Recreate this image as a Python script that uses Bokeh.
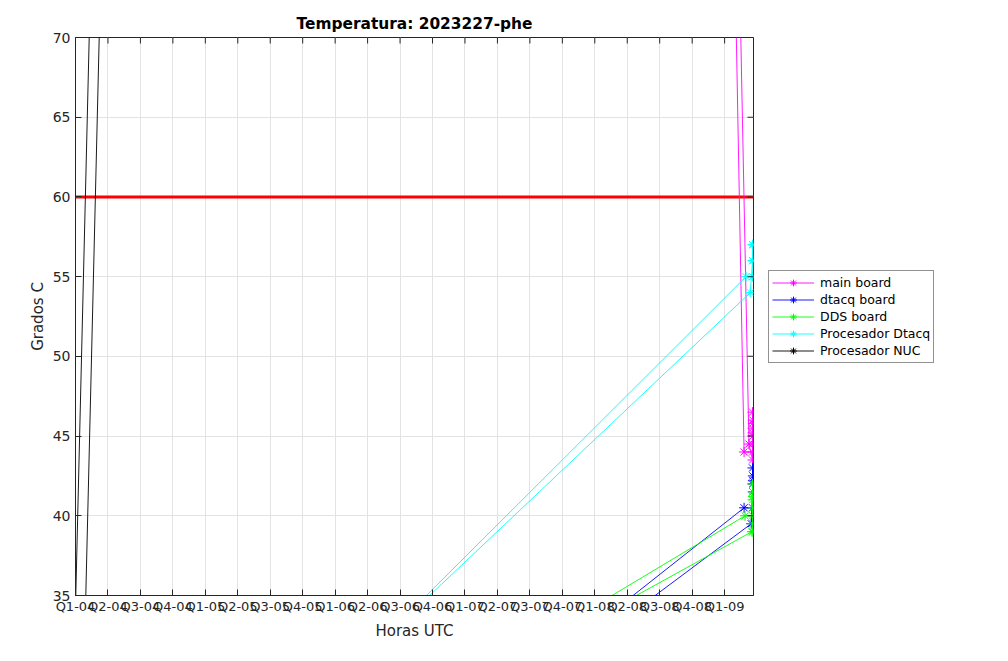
from bokeh.plotting import figure
from bokeh.layouts import row
from bokeh.models import Range1d, FixedTicker, Legend, LegendItem, Span
from bokeh.embed import file_html
from bokeh.resources import INLINE

# ---------------- data ----------------
quarter_labels = ["Q1-04", "Q2-04", "Q3-04", "Q4-04",
                  "Q1-05", "Q2-05", "Q3-05", "Q4-05",
                  "Q1-06", "Q2-06", "Q3-06", "Q4-06",
                  "Q1-07", "Q2-07", "Q3-07", "Q4-07",
                  "Q1-08", "Q2-08", "Q3-08", "Q4-08",
                  "Q1-09"]
quarter_ticks = list(range(len(quarter_labels)))   # quarter index since Q1-04
temp_ticks = [35, 40, 45, 50, 55, 60, 65, 70]
x_end = 20.89
temp_min, temp_max = 35, 70
limit_temp = 60

main_x = [20.27, 20.60, 20.86, 20.86, 20.87, 20.86, 20.87, 20.86, 20.87, 20.86, 20.86, 20.75, 20.40]
main_y = [80.0, 44.0, 44.0, 44.5, 45.0, 45.5, 46.0, 46.5, 45.8, 45.2, 43.5, 44.5, 80.0]

dtacq_x = [14.07, 20.60, 20.86, 20.87, 20.86, 20.87, 20.86, 20.87, 20.82, 14.57]
dtacq_y = [30.0, 40.5, 40.5, 41.5, 42.0, 42.5, 43.0, 42.2, 39.5, 30.0]

dds_x = [12.43, 20.63, 20.86, 20.87, 20.86, 20.87, 20.86, 20.87, 20.86, 20.87, 20.84, 12.83]
dds_y = [30.0, 40.0, 40.0, 40.5, 41.0, 41.5, 42.0, 41.2, 39.5, 39.0, 39.0, 30.0]

proc_dtacq_x = [8.35, 20.66, 20.86, 20.87, 20.86, 20.87, 20.86, 20.79, 8.31]
proc_dtacq_y = [30.0, 55.0, 55.0, 56.0, 57.0, 57.0, 56.0, 54.0, 30.0]

nuc_x = [0.0, 0.5, 0.8, 0.3]
nuc_y = [34.24, 76.6, 75.9, 33.56]

series = [
    ("main board", main_x, main_y, "#ff00ff"),
    ("dtacq board", dtacq_x, dtacq_y, "#0000ff"),
    ("DDS board", dds_x, dds_y, "#00ff00"),
    ("Procesador Dtacq", proc_dtacq_x, proc_dtacq_y, "#00ffff"),
    ("Procesador NUC", nuc_x, nuc_y, "#000000"),
]

FONT = "DejaVu Sans"
AXC = "#262626"
MARKER_SIZE = 10

p = figure(frame_width=678, frame_height=558,
           x_range=Range1d(0, x_end), y_range=Range1d(temp_min, temp_max),
           output_backend="svg", toolbar_location=None,
           min_border_left=75, min_border_top=37, min_border_bottom=50,
           min_border_right=5)

p.title.text = "Temperatura: 2023227-phe"
p.title.align = "center"
p.title.text_font = FONT
p.title.text_font_size = "15.4px"
p.title.text_font_style = "bold"
p.title.text_color = "#000000"

p.outline_line_color = AXC
p.outline_line_alpha = 1.0
p.background_fill_color = "white"
p.border_fill_color = "white"

xt = FixedTicker(ticks=quarter_ticks)
yt = FixedTicker(ticks=temp_ticks)

p.xaxis.ticker = xt
p.yaxis.ticker = yt
p.xaxis.major_label_overrides = {i: lab for i, lab in zip(quarter_ticks, quarter_labels)}
p.xaxis.axis_label = "Horas UTC"
p.yaxis.axis_label = "Grados C"

for ax in (p.xaxis[0], p.yaxis[0]):
    ax.major_tick_in = 6
    ax.major_tick_out = 0
    ax.minor_tick_line_color = None
    ax.axis_line_color = AXC
    ax.major_tick_line_color = AXC
    ax.major_label_text_font = FONT
    ax.major_label_text_color = AXC
    ax.axis_label_text_font = FONT
    ax.axis_label_text_font_size = "15px"
    ax.axis_label_text_font_style = "normal"
    ax.axis_label_text_color = AXC
p.xaxis.major_label_text_font_size = "13px"
p.yaxis.major_label_text_font_size = "14px"
p.xaxis.major_label_standoff = 3
p.xaxis.axis_label_standoff = 5
p.yaxis.major_label_standoff = 5
p.yaxis.axis_label_standoff = 3

p.xgrid.ticker = xt
p.ygrid.ticker = yt
p.xgrid.grid_line_color = "#e3e3e3"
p.ygrid.grid_line_color = "#e3e3e3"

limit = Span(location=limit_temp, dimension="width", line_color="#ff0000",
             line_width=3, level="underlay")
p.add_layout(limit)

for name, xs, ys, col in series:
    p.line(xs, ys, line_color=col, line_width=0.9)
    p.scatter(xs, ys, marker="asterisk", size=MARKER_SIZE, line_color=col, line_width=1)

# inward box ticks on top and right edges (half of each clipped by the frame)
p.rect(x=quarter_ticks, y=[temp_max] * len(quarter_ticks), width=1, height=12,
       width_units="screen", height_units="screen", fill_color=AXC, line_color=None)
p.rect(x=[x_end] * len(temp_ticks), y=temp_ticks, width=12, height=1,
       width_units="screen", height_units="screen", fill_color=AXC, line_color=None)

# ---------------- legend panel (right of the axes) ----------------
# same series drawn again, entirely outside this panel's (0..1) ranges, only to feed the legend
leg_fig = figure(width=230, height=645, title=None,
                 x_range=Range1d(-1000, -999), y_range=Range1d(-1000, -999),
                 x_axis_location=None, y_axis_location=None,
                 output_backend="svg", toolbar_location=None, min_border=0)
leg_fig.grid.visible = False
leg_fig.outline_line_color = None
leg_fig.background_fill_color = "white"
leg_fig.border_fill_color = "white"

items = []
for name, xs, ys, col in series:
    ln = leg_fig.line(xs, ys, line_color=col, line_width=0.9)
    sc = leg_fig.scatter(xs, ys, marker="asterisk", size=MARKER_SIZE - 1, line_color=col, line_width=1)
    items.append(LegendItem(label=name, renderers=[ln, sc]))

legend = Legend(items=items, location=(10, 232))
legend.label_text_font = FONT
legend.label_text_font_size = "12.5px"
legend.label_text_color = "#000000"
legend.border_line_color = AXC
legend.border_line_width = 1
legend.background_fill_alpha = 1.0
legend.padding = 3
legend.spacing = 0
legend.label_height = 17
legend.glyph_height = 17
legend.glyph_width = 42
legend.label_standoff = 6
legend.margin = 0
leg_fig.add_layout(legend)

layout = row(p, leg_fig)
open("out.html", "w").write(file_html(layout, INLINE))
